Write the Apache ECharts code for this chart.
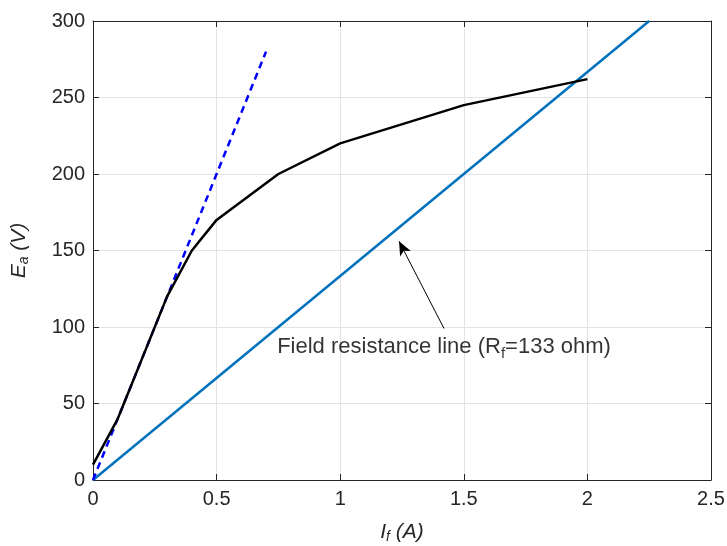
<!DOCTYPE html>
<html>
<head>
<meta charset="utf-8">
<script src="https://cdn.jsdelivr.net/npm/echarts@6/dist/echarts.min.js"></script>
<style>
  html, body { margin: 0; padding: 0; background: #fff; }
  #chart { width: 727px; height: 546px; }
</style>
</head>
<body>
<div id="chart"></div>
<script>
// Magnetization curve (open-circuit characteristic)
const magIf = [0, 0.1, 0.2, 0.3, 0.4, 0.5, 0.75, 1, 1.5, 2];
const magEa = [10, 40, 80, 120, 150, 170, 200, 220, 245, 262];

// Air-gap line (dashed)
const gapIf = [0, 0.7];
const gapEa = [0, 280];

// Field resistance line, Rf = 133 ohm
const fieldIf = [0, 2.25];
const fieldEa = [0, 300];

// Annotation
const noteText = "{t|Field resistance line (R}{sub|f}{t|=133 ohm)}";
const notePos = [0.745, 87];
const arrowFrom = [1.42, 99];
const arrowTo = [1.238, 156];

const FONT = "Liberation Sans";
const zip = (xs, ys) => xs.map((x, i) => [x, ys[i]]);

let chart = echarts.init(document.getElementById("chart"));

let axisCommon = {
  axisLine: { show: true, onZero: false, lineStyle: { color: "#262626", width: 1 } },
  axisTick: { show: true, inside: true, length: 6, lineStyle: { color: "#262626" } },
};

let nameRich = {
  i: { fontFamily: FONT, fontSize: 21, fontStyle: "italic", color: "#262626" },
  sub: { fontFamily: FONT, fontSize: 14, fontStyle: "italic", color: "#262626", verticalAlign: "bottom", padding: [10, 0, 0, 0] },
  t: { fontFamily: FONT, fontSize: 21, fontStyle: "italic", color: "#262626" },
};

chart.setOption({
  animation: false,
  backgroundColor: "#fff",
  grid: { left: 93, right: 16, top: 21, bottom: 66, containLabel: false, outerBoundsMode: "none" },
  xAxis: [
    {
      type: "value", min: 0, max: 2.5, interval: 0.5,
      ...axisCommon,
      axisLabel: { color: "#262626", fontFamily: FONT, fontSize: 20, margin: 9 },
      splitLine: { show: true, lineStyle: { color: "#e3e3e3" } },
      name: "{i|I}{sub|f}{t| (A)}",
      nameLocation: "middle", nameGap: 40,
      nameTextStyle: { rich: nameRich },
    },
    {
      type: "value", min: 0, max: 2.5, interval: 0.5, position: "top",
      ...axisCommon, axisLabel: { show: false }, splitLine: { show: false },
    },
  ],
  yAxis: [
    {
      type: "value", min: 0, max: 300, interval: 50,
      ...axisCommon,
      axisLabel: { color: "#262626", fontFamily: FONT, fontSize: 20, margin: 8 },
      splitLine: { show: true, lineStyle: { color: "#e3e3e3" } },
      name: "{i|E}{sub|a}{t| (V)}",
      nameLocation: "middle", nameGap: 62, nameRotate: 90,
      nameTextStyle: { rich: nameRich },
    },
    {
      type: "value", min: 0, max: 300, interval: 50, position: "right",
      ...axisCommon, axisLabel: { show: false }, splitLine: { show: false },
    },
  ],
  series: [
    {
      type: "line", data: zip(fieldIf, fieldEa), symbol: "none",
      lineStyle: { color: "#0072BD", width: 2.5 }, z: 3,
    },
    {
      type: "line", data: zip(gapIf, gapEa), symbol: "none",
      lineStyle: { color: "#0000FF", width: 2.5, type: [7, 5] }, z: 4,
    },
    {
      type: "line", data: zip(magIf, magEa), symbol: "none",
      lineStyle: { color: "#000000", width: 2.5 }, z: 5,
    },
    {
      // arrow + label
      type: "scatter", data: [notePos], symbolSize: 0, silent: true, z: 6,
      label: {
        show: true, position: [0, 0], align: "left", verticalAlign: "middle",
        formatter: noteText,
        rich: {
          t: { fontFamily: FONT, fontSize: 22, color: "#000" },
          sub: { fontFamily: FONT, fontSize: 15, color: "#000", verticalAlign: "bottom", padding: [13, 0, 0, 0] },
        },
      },
      markLine: {
        silent: true, symbol: ["none", "arrow"], symbolSize: [9, 14],
        lineStyle: { color: "#000", width: 1, type: "solid" },
        label: { show: false },
        data: [[{ coord: arrowFrom }, { coord: arrowTo }]],
      },
    },
  ],
});
</script>
</body>
</html>
